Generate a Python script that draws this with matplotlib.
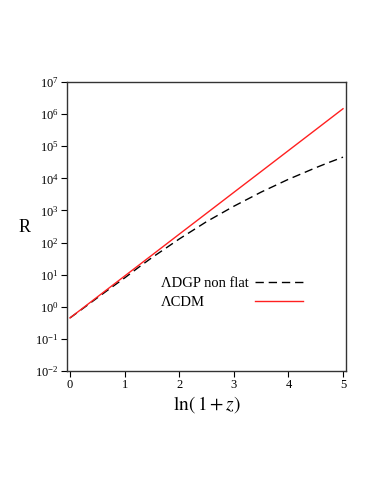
import matplotlib
matplotlib.use("Agg")
import matplotlib.pyplot as plt

plt.rcParams['font.family'] = ['Liberation Serif', 'DejaVu Serif']
plt.rcParams['mathtext.fontset'] = 'stix'

# ln(1+z) grid
x_dgp = [0, 0.25, 0.5, 0.75, 1.0, 1.25, 1.5, 1.75, 2.0, 2.25, 2.5,
         2.75, 3.0, 3.25, 3.5, 3.75, 4.0, 4.25, 4.5, 4.75, 5.0]
R_dgp = [0.45, 0.92, 1.9, 3.9, 7.9, 16.6, 33.9, 66, 129, 240, 447,
         776, 1350, 2240, 3720, 5890, 9330, 14100, 21400, 31600, 45700]

x_lcdm = [0, 0.5, 1.0, 1.5, 2.0, 2.5, 3.0, 3.5, 4.0, 4.5, 5.0]
R_lcdm = [0.45, 2.02, 9.04, 40.5, 182, 814, 3650, 16300, 73100, 327000, 1470000]

labels = ['ΛDGP non flat', 'ΛCDM']

fig = plt.figure(figsize=(3.74, 4.84), dpi=100)
ax = fig.add_axes([67/374, 1-371/484, 279/374, 289/484])

l1, = ax.semilogy(x_dgp, R_dgp, color='black', lw=1.0, dashes=(6, 3.5), label=labels[0])
l2, = ax.semilogy(x_lcdm, R_lcdm, color='#ff2020', lw=1.0, label=labels[1])

ax.set_xlim(-0.055, 5.055)
ax.set_ylim(1e-2, 1e7)
ax.set_xticks([0, 1, 2, 3, 4, 5])
ax.set_yticks([10.0**k for k in range(-2, 8)])
ax.minorticks_off()
ax.tick_params(direction='out', length=4, width=0.8, labelsize=9, pad=2)
for s in ax.spines.values():
    s.set_linewidth(1.0)
    s.set_color('#333333')

ax.set_xlabel(r'$\ln(\,1+z)$', fontsize=14, labelpad=2)
ax.set_ylabel('R', fontsize=13, rotation=0, va='center', ha='center')
ax.yaxis.set_label_coords((25 - 67) / 279, (371 - 228) / 289)

# legend: text column (left aligned) and handle column on its right
anchor_y = (371 - 277) / 289
leg_text = ax.legend([l1, l2], labels, loc='upper left',
                     bbox_to_anchor=((161 - 67) / 279, anchor_y),
                     frameon=False, fontsize=10.5, handlelength=0, handletextpad=0,
                     labelspacing=0.4, borderpad=0, borderaxespad=0)
for h in leg_text.legend_handles:
    h.set_visible(False)
ax.add_artist(leg_text)
ax.legend([l1, l2], ['', ''], loc='upper left',
          bbox_to_anchor=((255 - 67) / 279, anchor_y),
          frameon=False, fontsize=10.5, handlelength=3.3, handletextpad=0,
          labelspacing=0.4, borderpad=0, borderaxespad=0)

fig.savefig('out.png', dpi=100)
